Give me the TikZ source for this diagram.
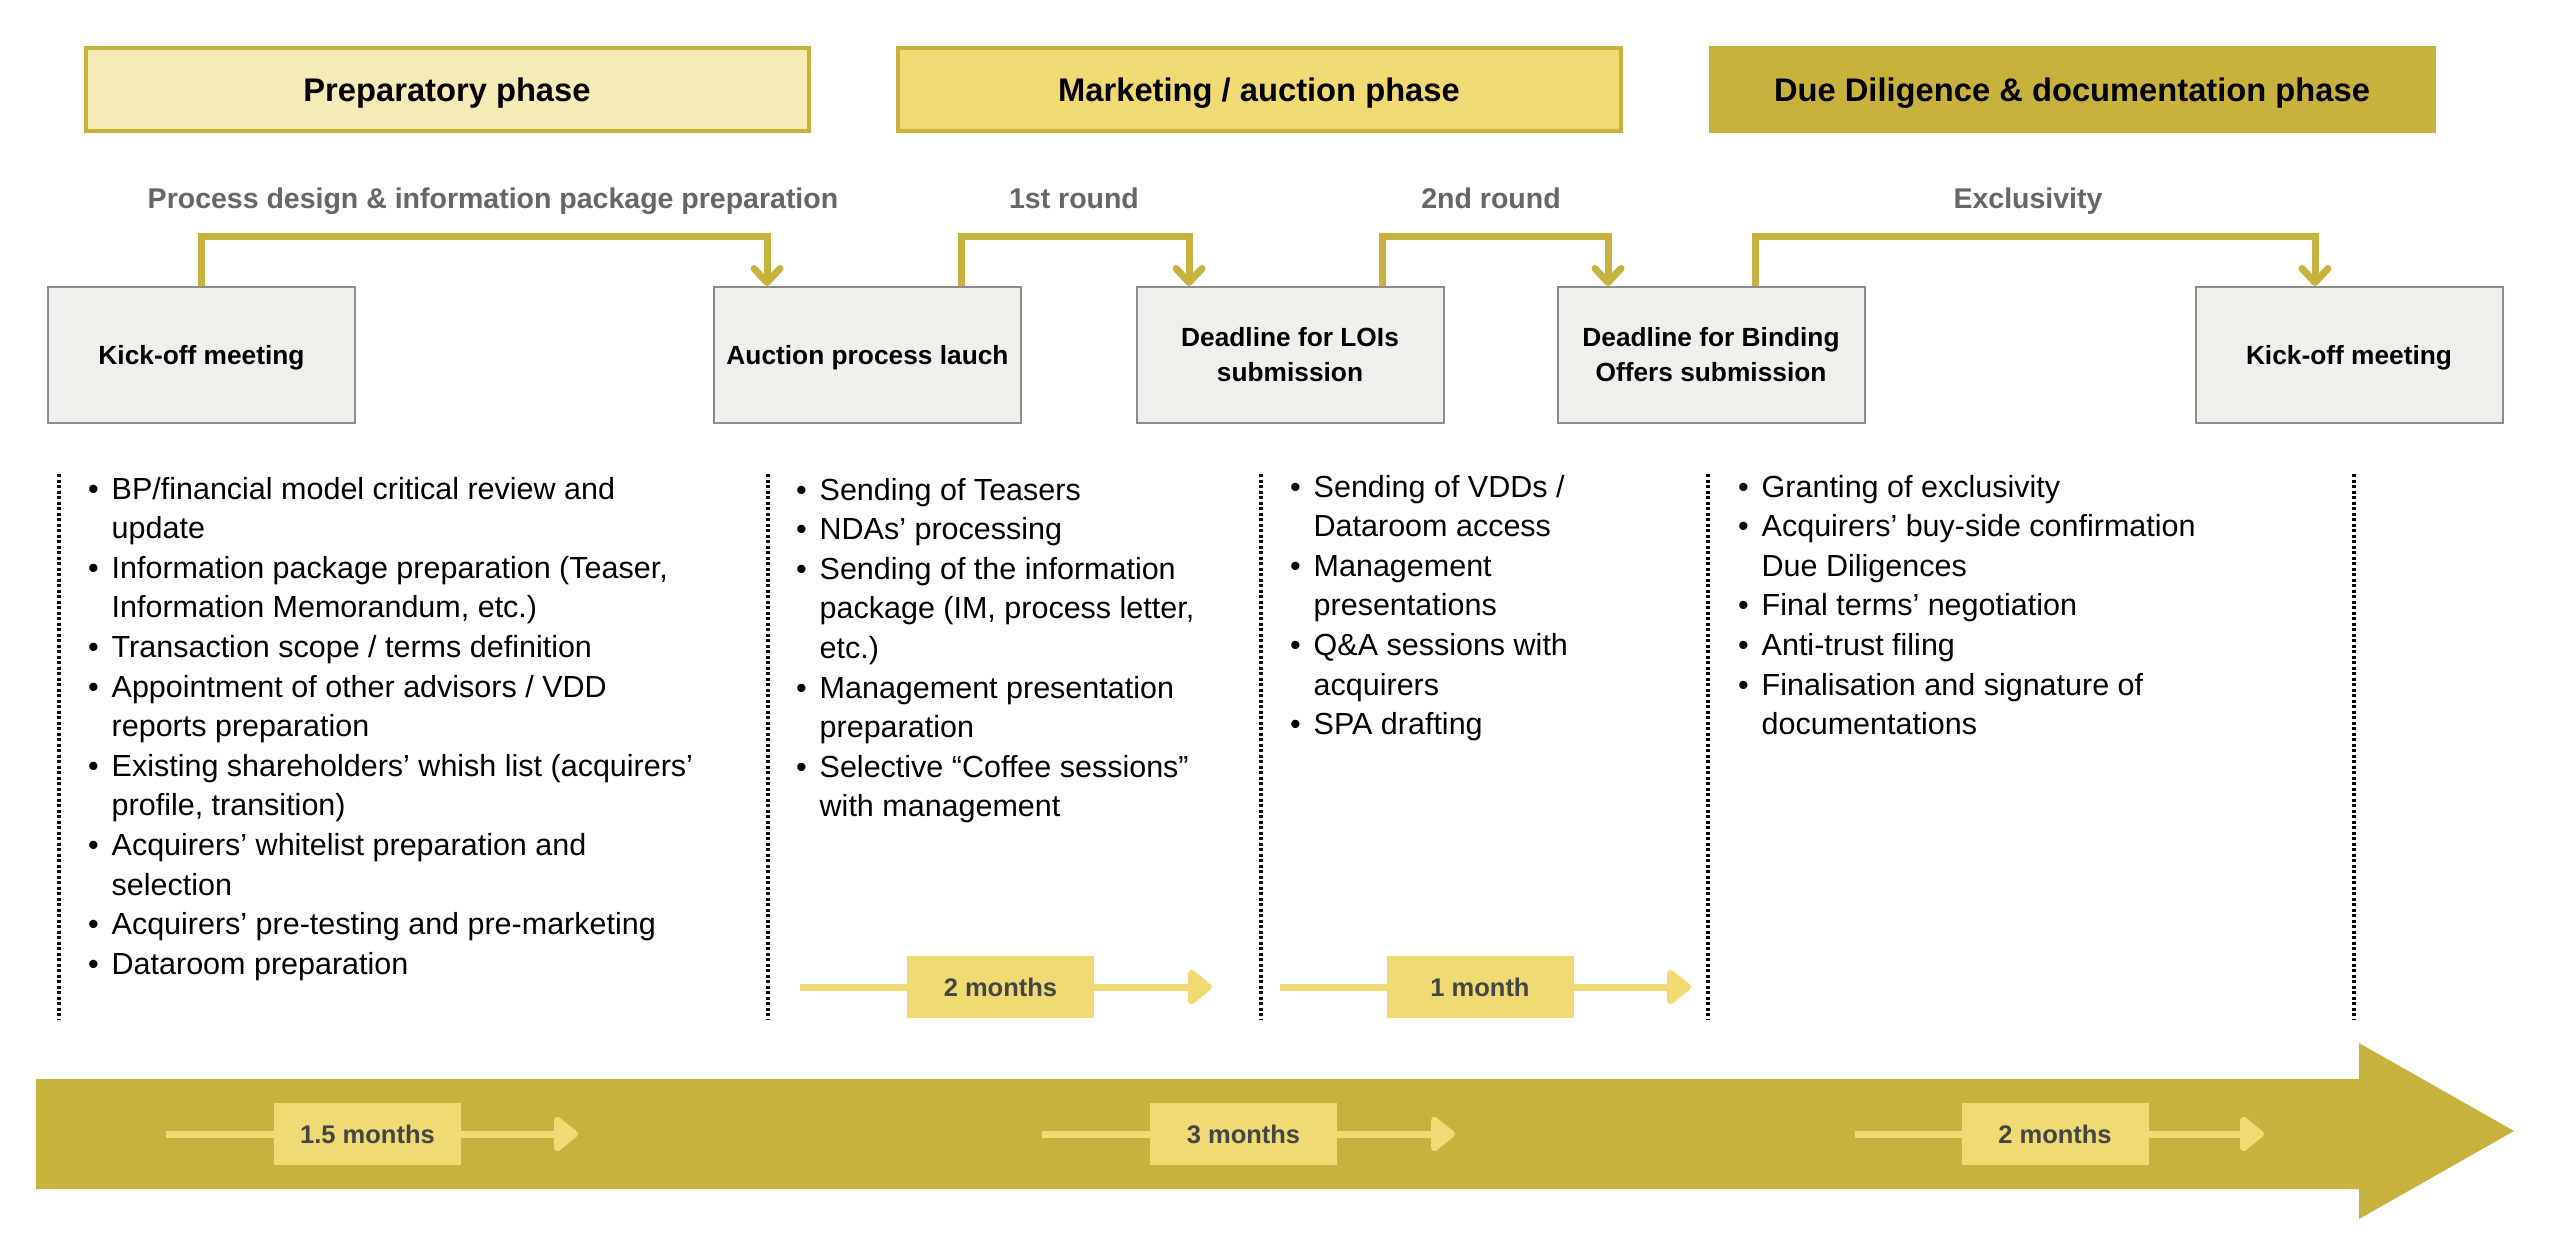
\documentclass[tikz,border=0pt]{standalone}
\usepackage{fontspec}
\setmainfont{Liberation Sans}
\usetikzlibrary{arrows.meta}
\definecolor{gold}{HTML}{C8B23E}
\definecolor{ylw}{HTML}{F0DA74}
\definecolor{pale}{HTML}{F5EBB6}
\definecolor{boxfill}{HTML}{F0EFEB}
\definecolor{boxline}{HTML}{8C8C8C}
\definecolor{labgray}{HTML}{666666}
\definecolor{durgray}{HTML}{454545}
\newcommand\blt[1]{\hbox{\makebox[23.5pt][l]{\textbullet}#1}}
\newcommand\bcn[1]{\hbox{\hspace*{23.5pt}#1}}
\begin{document}
\begin{tikzpicture}[x=1pt,y=-1pt,
 phasebox/.style={minimum width=723pt, minimum height=83pt, line width=4pt, inner sep=0pt, text height=23.4pt, text depth=0pt, font=\fontsize{32.7}{40}\selectfont\bfseries},
 stagebox/.style={draw=boxline, line width=2pt, fill=boxfill, minimum width=307pt, minimum height=136pt, align=center, inner sep=0pt, font=\fontsize{26.3}{35}\selectfont\bfseries},
 oneline/.style={text height=18.8pt, text depth=0pt},
 roundlabel/.style={text=labgray, inner sep=0pt, text height=20.4pt, text depth=0pt, font=\fontsize{28.5}{34}\selectfont\bfseries},
 conn/.style={draw=gold, line width=7pt, -{Straight Barb[length=14pt,width=26pt,round]}},
 durbox/.style={fill=ylw, minimum width=187pt, minimum height=62pt, inner sep=0pt, text=durgray, text height=18.3pt, text depth=0pt, font=\fontsize{25.5}{30}\selectfont\bfseries},
 durline/.style={draw=ylw, line width=7pt, -{Triangle[length=26pt,width=40pt,round]}},
 dotline/.style={line width=4pt, dash pattern=on 3pt off 2.5pt},
 bullets/.style={anchor=base west, inner sep=0pt, font=\fontsize{30.5}{39.6}\selectfont}
]
\useasboundingbox (0,0) rectangle (2560,1233);

% phase boxes
\node[phasebox, draw=gold, fill=pale] (ph1) at (447,89.5) {Preparatory phase};
\node[phasebox, draw=gold, fill=ylw] (ph2) at (1259,89.5) {Marketing / auction phase};
\node[phasebox, draw=gold, fill=gold] (ph3) at (2072,89.5) {Due Diligence \& documentation phase};

% round labels
\node[roundlabel] (r1) at (493,198) {Process design \& information package preparation};
\node[roundlabel] (r2) at (1074,198) {1st round};
\node[roundlabel] (r3) at (1491,198) {2nd round};
\node[roundlabel] (r4) at (2028,198) {Exclusivity};

% stage boxes
\node[stagebox, oneline] (k1) at (201.5,355) {Kick-off meeting};
\node[stagebox, oneline] (au) at (867.5,355) {Auction process lauch};
\node[stagebox] (loi) at (1290,355) {Deadline for LOIs\\submission};
\node[stagebox] (bo) at (1711,355) {Deadline for Binding\\Offers submission};
\node[stagebox, oneline] (k2) at (2349,355) {Kick-off meeting};

% connectors
\coordinate (e1) at (767,237);
\coordinate (s2) at (961,237);
\coordinate (e2) at (1189,237);
\coordinate (s3) at (1382,237);
\coordinate (e3) at (1608,237);
\coordinate (s4) at (1755,237);
\coordinate (e4) at (2315,237);
\draw[conn] (k1.north) |- (e1) -- (au.north -| e1);
\draw[conn] (au.north -| s2) -- (s2) -- (e2) -- (loi.north -| e2);
\draw[conn] (loi.north -| s3) -- (s3) -- (e3) -- (bo.north -| e3);
\draw[conn] (bo.north -| s4) -- (s4) -- (e4) -- (k2.north -| e4);

% dotted separators
\foreach \i/\x in {1/59,2/768,3/1261,4/1708,5/2354}{
  \coordinate (vt\i) at (\x,474);
  \coordinate (vb\i) at (\x,1020);
  \draw[dotline] (vt\i) -- (vb\i);
}

% bullet lists
\node[bullets] (l1) at (88,499) {\vtop{%
\blt{BP/financial model critical review and}
\bcn{update}
\blt{Information package preparation (Teaser,}
\bcn{Information Memorandum, etc.)}
\blt{Transaction scope / terms definition}
\blt{Appointment of other advisors / VDD}
\bcn{reports preparation}
\blt{Existing shareholders’ whish list (acquirers’}
\bcn{profile, transition)}
\blt{Acquirers’ whitelist preparation and}
\bcn{selection}
\blt{Acquirers’ pre-testing and pre-marketing}
\blt{Dataroom preparation}}};

\node[bullets] (l2) at (796,500) {\vtop{%
\blt{Sending of Teasers}
\blt{NDAs’ processing}
\blt{Sending of the information}
\bcn{package (IM, process letter,}
\bcn{etc.)}
\blt{Management presentation}
\bcn{preparation}
\blt{Selective “Coffee sessions”}
\bcn{with management}}};

\node[bullets] (l3) at (1290,497) {\vtop{%
\blt{Sending of VDDs /}
\bcn{Dataroom access}
\blt{Management}
\bcn{presentations}
\blt{Q\&A sessions with}
\bcn{acquirers}
\blt{SPA drafting}}};

\node[bullets] (l4) at (1738,497) {\vtop{%
\blt{Granting of exclusivity}
\blt{Acquirers’ buy-side confirmation}
\bcn{Due Diligences}
\blt{Final terms’ negotiation}
\blt{Anti-trust filing}
\blt{Finalisation and signature of}
\bcn{documentations}}};

% big timeline arrow
\fill[gold] (36,1079) -- (2359,1079) -- (2359,1043) -- (2514,1131) -- (2359,1219) -- (2359,1189) -- (36,1189) -- cycle;

% duration arrows
\coordinate (a1s) at (800,987);  \coordinate (a1e) at (1212,987);
\coordinate (a2s) at (1280,987); \coordinate (a2e) at (1691,987);
\coordinate (a3s) at (166,1134); \coordinate (a3e) at (578,1134);
\coordinate (a4s) at (1042,1134); \coordinate (a4e) at (1455,1134);
\coordinate (a5s) at (1855,1134); \coordinate (a5e) at (2264,1134);
\foreach \i in {1,...,5}{\draw[durline] (a\i s) -- (a\i e);}
\node[durbox] (d1) at (1000.5,987) {2 months};
\node[durbox] (d2) at (1480,987) {1 month};
\node[durbox] (d3) at (367.5,1134) {1.5 months};
\node[durbox] (d4) at (1243.5,1134) {3 months};
\node[durbox] (d5) at (2055,1134) {2 months};
\end{tikzpicture}
\end{document}
